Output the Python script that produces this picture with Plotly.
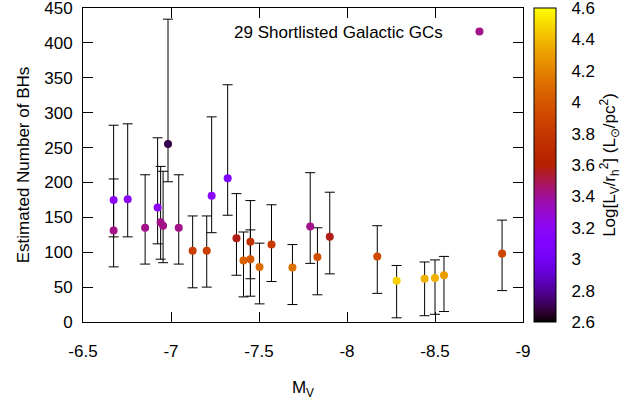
import numpy as np
import plotly.graph_objects as go

# ---- data ----
mv = [-6.674, -6.674, -6.754, -6.853, -6.924, -6.941, -6.955, -6.983, -7.044,
      -7.123, -7.203, -7.231, -7.322, -7.372, -7.412, -7.451, -7.451, -7.503,
      -7.571, -7.690, -7.791, -7.832, -7.902, -8.172, -8.282, -8.441, -8.500,
      -8.551, -8.881]
n_bh = [175, 131, 176, 135, 164, 143, 138, 255, 135,
        102, 102, 181, 206, 120, 88, 115, 90, 79,
        111, 78, 137, 93, 122, 94, 59, 62, 63,
        67, 98]
n_lo = [122, 79, 122, 83, 112, 90, 85, 201, 83,
        49, 50, 128, 153, 67, 36, 62, 37, 26,
        58, 25, 84, 39, 69, 41, 6, 9, 11,
        15, 45]
n_hi = [282, 205, 284, 211, 264, 223, 216, 434, 211,
        152, 152, 294, 340, 184, 129, 174, 132, 113,
        168, 111, 214, 135, 186, 138, 81, 86, 89,
        94, 146]
log_sb = [3.2, 3.42, 3.2, 3.42, 3.2, 3.42, 3.42, 2.7, 3.42,
          3.85, 3.85, 3.2, 3.1, 3.57, 4.05, 3.75, 4.0, 4.1,
          3.82, 4.12, 3.42, 3.95, 3.57, 3.92, 4.47, 4.37, 4.37,
          4.3, 3.9]
legend_label = "29 Shortlisted Galactic GCs"
xtick_vals = [-6.5, -7, -7.5, -8, -8.5, -9]
xtick_text = ["-6.5", "-7", "-7.5", "-8", "-8.5", "-9"]
ytick_vals = [0, 50, 100, 150, 200, 250, 300, 350, 400, 450]
cb_tick_vals = [2.6, 2.8, 3.0, 3.2, 3.4, 3.6, 3.8, 4.0, 4.2, 4.4, 4.6]
cb_tick_text = ["2.6", "2.8", "3", "3.2", "3.4", "3.6", "3.8", "4", "4.2", "4.4", "4.6"]

# gnuplot default palette (rgbformulae 7,5,15)
def gp_color(t):
    r = np.sqrt(t)
    g = t ** 3
    b = max(0.0, np.sin(2 * np.pi * t))
    return "rgb(%d,%d,%d)" % (round(r * 255), round(g * 255), round(b * 255))

colorscale = [[float(t), gp_color(float(t))] for t in np.linspace(0, 1, 51)]

err_plus = [h - y for h, y in zip(n_hi, n_bh)]
err_minus = [y - l for l, y in zip(n_lo, n_bh)]

FONT = "Liberation Sans, Arial, sans-serif"
FS = 17

fig = go.Figure()
fig.add_trace(go.Scatter(
    x=mv, y=n_bh, mode="markers",
    error_y=dict(type="data", symmetric=False, array=err_plus, arrayminus=err_minus,
                 color="black", thickness=1, width=5),
    marker=dict(size=8, color=log_sb, colorscale=colorscale, cmin=2.6, cmax=4.6,
                line=dict(width=0),
                colorbar=dict(
                    x=1.0243, xanchor="left", xpad=0, y=0.5, yanchor="middle", ypad=0,
                    len=1, lenmode="fraction", thickness=22, thicknessmode="pixels",
                    outlinewidth=1, outlinecolor="black",
                    tickvals=cb_tick_vals, ticktext=cb_tick_text,
                    ticks="outside", ticklen=12, tickcolor="rgba(0,0,0,0)",
                    ticklabeloverflow="allow",
                    tickfont=dict(family=FONT, size=FS, color="black"),
                    title=dict(text="Log[L<sub>V</sub>/r<sub>h</sub><sup>2</sup>] (L<sub>⊙</sub>/pc<sup>2</sup>)",
                               side="right", font=dict(family=FONT, size=FS, color="black")),
                )),
    showlegend=False, hoverinfo="skip",
))

# key (text then sample, gnuplot style)
fig.add_annotation(text=legend_label, xref="paper", yref="paper", x=0.822, y=0.921,
                   xanchor="right", yanchor="middle", showarrow=False,
                   font=dict(family=FONT, size=FS, color="black"))
fig.add_shape(type="circle", xref="paper", yref="paper", xsizemode="pixel", ysizemode="pixel",
              xanchor=0.901, yanchor=0.925, x0=-4, x1=4, y0=-4, y1=4,
              fillcolor=gp_color((3.42 - 2.6) / 2), line=dict(width=0))

axis_common = dict(showline=True, linecolor="black", linewidth=1, mirror="ticks",
                   ticks="inside", ticklen=10, tickcolor="black", tickwidth=1,
                   showgrid=False, zeroline=False, ticklabeloverflow="allow",
                   tickfont=dict(family=FONT, size=FS, color="black"))

fig.update_layout(
    width=628, height=400,
    margin=dict(l=83, r=105, t=8, b=78, autoexpand=False),
    paper_bgcolor="white", plot_bgcolor="white",
    xaxis=dict(range=[-6.5, -9], tickvals=xtick_vals, ticktext=xtick_text,
               ticklabelstandoff=14,
               title=dict(text="M<sub>V</sub>", font=dict(family=FONT, size=FS, color="black"),
                          standoff=26),
               **axis_common),
    yaxis=dict(range=[0, 450], tickvals=ytick_vals, ticklabelstandoff=6,
               title=dict(text="Estimated Number of BHs",
                          font=dict(family=FONT, size=FS, color="black"), standoff=10),
               **axis_common),
    showlegend=False,
)

fig.write_html("out.html")
